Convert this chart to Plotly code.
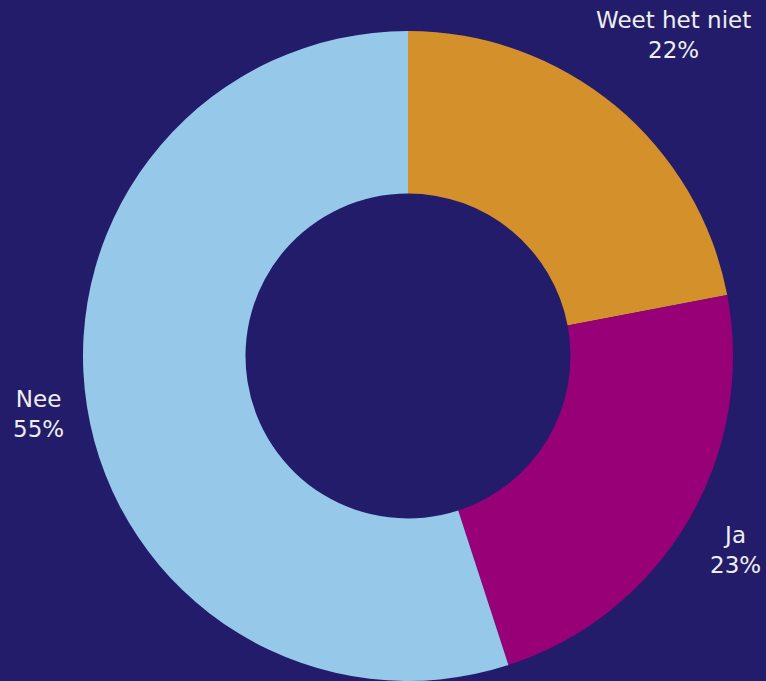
import math
import plotly.graph_objects as go

labels = ["Weet het niet", "Ja", "Nee"]
values = [22, 23, 55]
colors = ["#D4902A", "#970077", "#96C8EA"]

W, H = 766, 681
cx, cy, R = 408, 356, 325
label_dist = [1.28, 1.17, 1.15]  # label radius relative to outer radius

fig = go.Figure(go.Pie(
    labels=labels,
    values=values,
    marker=dict(colors=colors, line=dict(width=0)),
    hole=0.5,
    sort=False,
    direction="clockwise",
    rotation=0,
    textinfo="none",
    hoverinfo="label+percent",
    automargin=False,
    showlegend=False,
    domain=dict(x=[(cx - R) / W, (cx + R) / W], y=[max(0, (H - cy - R) / H), (H - cy + R) / H]),
))

total = sum(values)
cum = 0
annotations = []
for lab, v, d in zip(labels, values, label_dist):
    mid = (cum + v / 2) / total * 2 * math.pi
    cum += v
    px = cx + d * R * math.sin(mid)
    py = cy - d * R * math.cos(mid)
    pct = round(100 * v / total)
    annotations.append(dict(
        x=px / W, y=1 - py / H, xref="paper", yref="paper",
        text=f"{lab}<br>{pct}%", showarrow=False,
        xanchor="center", yanchor="middle", align="center",
        font=dict(family="DejaVu Sans", size=23, color="#EEEEEE"),
    ))

fig.update_layout(
    width=W, height=H,
    margin=dict(l=0, r=0, t=0, b=0),
    paper_bgcolor="#231C6B",
    plot_bgcolor="#231C6B",
    annotations=annotations,
)
fig.write_html(
    "out.html",
    config={"displayModeBar": False},
    post_script="document.body.style.margin='0';document.body.style.background='#231C6B';",
)
